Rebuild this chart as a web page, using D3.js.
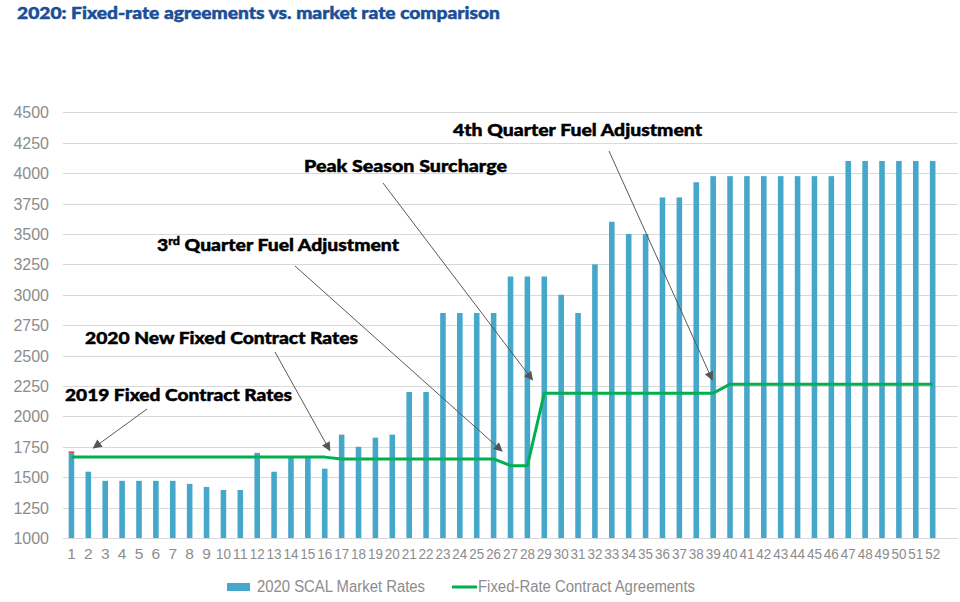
<!DOCTYPE html>
<html>
<head>
<meta charset="utf-8">
<script src="https://cdn.jsdelivr.net/npm/d3@7"></script>
<style>
	body { margin: 0; background: #fff; }
	svg { display: block; }
	.tick-label { font-family: "Liberation Sans", Arial, sans-serif; fill: #8c8c8c; }
	.note { font-family: Lato, "Open Sans", sans-serif; font-weight: 900; fill: #000; font-size: 17px;
		stroke: #000; stroke-width: 0.45px; }
</style>
</head>
<body>
<div id="chart"></div>
<script>
// weekly data
var weeks = [1, 2, 3, 4, 5, 6, 7, 8, 9, 10, 11, 12, 13, 14, 15, 16, 17, 18, 19, 20, 21, 22, 23, 24, 25, 26,
	27, 28, 29, 30, 31, 32, 33, 34, 35, 36, 37, 38, 39, 40, 41, 42, 43, 44, 45, 46, 47, 48, 49, 50, 51, 52];

var marketRates = [1700, 1545, 1470, 1470, 1470, 1470, 1470, 1445, 1420, 1395, 1395, 1700, 1545, 1665, 1665, 1570,
	1850, 1750, 1825, 1850, 2200, 2200, 2850, 2850, 2850, 2850, 3150, 3150, 3150, 3000, 2850, 3250, 3600, 3500,
	3500, 3800, 3800, 3925, 3975, 3975, 3975, 3975, 3975, 3975, 3975, 3975, 4100, 4100, 4100, 4100, 4100, 4100];

var contractRates = [1665, 1665, 1665, 1665, 1665, 1665, 1665, 1665, 1665, 1665, 1665, 1665, 1665, 1665, 1665, 1665,
	1650, 1650, 1650, 1650, 1650, 1650, 1650, 1650, 1650, 1650, 1595, 1595, 2190, 2190, 2190, 2190, 2190, 2190,
	2190, 2190, 2190, 2190, 2190, 2265, 2265, 2265, 2265, 2265, 2265, 2265, 2265, 2265, 2265, 2265, 2265, 2265];

// small red cap seen on top of week 1
var week1Cap = [1700, 1712];

var yTicks = [1000, 1250, 1500, 1750, 2000, 2250, 2500, 2750, 3000, 3250, 3500, 3750, 4000, 4250, 4500];

var seriesNames = ["2020 SCAL Market Rates", "Fixed-Rate Contract Agreements"];

// annotation texts
var notes = ["2019 Fixed Contract Rates", "2020 New Fixed Contract Rates", "3rd Quarter Fuel Adjustment",
	"Peak Season Surcharge", "4th Quarter Fuel Adjustment"];

(function() {
	var W = 960, H = 602;
	var left = 63, right = 958, top = 112.3, bottom = 538;
	var band = (right - left) / 53; // Excel left one empty slot after week 52

	var svg = d3.select("#chart").append("svg").attr("width", W).attr("height", H);

	var x = d3.scaleBand().domain(weeks).range([left, right - band]).paddingInner(0.67).paddingOuter(0.335);
	var y = d3.scaleLinear().domain([1000, 4500]).range([bottom, top]);
	var cx = function(w) { return x(w) + x.bandwidth() / 2; };

	// title
	svg.append("text")
		.attr("x", 17).attr("y", 18.5)
		.attr("textLength", 483).attr("lengthAdjust", "spacingAndGlyphs")
		.style("font-family", "Lato, 'Open Sans', sans-serif").style("font-weight", 900)
		.style("font-size", "17.5px").style("fill", "#1b4f98")
		.style("stroke", "#1b4f98").style("stroke-width", "0.5px")
		.text("2020:  Fixed-rate agreements vs. market rate comparison");

	// gridlines
	svg.append("g").selectAll("line").data(yTicks).join("line")
		.attr("x1", left).attr("x2", right)
		.attr("y1", function(d) { return Math.round(y(d)) + 0.5; })
		.attr("y2", function(d) { return Math.round(y(d)) + 0.5; })
		.attr("stroke", "#d9d9d9").attr("stroke-width", 1);

	// y axis labels
	var yAxis = d3.axisLeft(y).tickValues(yTicks).tickFormat(d3.format("d")).tickSize(0).tickPadding(0);
	var gy = svg.append("g").attr("transform", "translate(49,0)").call(yAxis);
	gy.select(".domain").remove();
	gy.selectAll("text").attr("class", "tick-label").style("font-size", "16px").attr("dy", "0.35em");

	// x axis labels
	var xAxis = d3.axisBottom(x).tickSize(0).tickPadding(0);
	var gx = svg.append("g").attr("transform", "translate(0,559)").call(xAxis);
	gx.select(".domain").remove();
	gx.selectAll("text").attr("class", "tick-label").style("font-size", "15.5px").attr("dy", 0)
		.each(function(d) {
			if (d >= 10) d3.select(this).attr("textLength", 15).attr("lengthAdjust", "spacingAndGlyphs");
		});

	// bars
	svg.append("g").selectAll("rect").data(weeks).join("rect")
		.attr("x", function(d) { return x(d); })
		.attr("width", x.bandwidth())
		.attr("y", function(d, i) { return y(marketRates[i]); })
		.attr("height", function(d, i) { return y(1000) - y(marketRates[i]); })
		.attr("fill", "#45a7c9");

	svg.append("rect")
		.attr("x", x(weeks[0])).attr("width", x.bandwidth())
		.attr("y", y(week1Cap[1])).attr("height", y(week1Cap[0]) - y(week1Cap[1]))
		.attr("fill", "#e0332a");

	// contract line
	var line = d3.line()
		.x(function(d, i) { return cx(weeks[i]); })
		.y(function(d) { return y(d); });
	svg.append("path").datum(contractRates)
		.attr("d", line).attr("fill", "none")
		.attr("stroke", "#00b050").attr("stroke-width", 3).attr("stroke-linejoin", "round");

	// arrow marker
	svg.append("defs").append("marker")
		.attr("id", "arr").attr("viewBox", "0 0 10 10").attr("refX", 9).attr("refY", 5)
		.attr("markerWidth", 11).attr("markerHeight", 9).attr("markerUnits", "userSpaceOnUse")
		.attr("orient", "auto")
		.append("path").attr("d", "M0,0 L10,5 L0,10 Z").attr("fill", "#555");

	// annotation positions: text x, baseline, width, arrow from, arrow to (week, value)
	var notePos = [
		{ x: 65, y: 400.5, w: 227, from: [147, 409], to: [2.3, 1740] },
		{ x: 85, y: 344, w: 273, from: [275, 352], to: [16.3, 1720] },
		{ x: 157, y: 251, w: 242, from: [295, 266], to: [26.5, 1715] },
		{ x: 304, y: 172.3, w: 203, from: [383, 183], to: [28.3, 2300] },
		{ x: 453, y: 136, w: 249, from: [609, 151], to: [38.95, 2300] }
	];
	var weekX = d3.scaleLinear().domain([1, 52]).range([cx(1), cx(52)]);

	var gn = svg.append("g");
	notePos.forEach(function(p, i) {
		gn.append("line")
			.attr("x1", p.from[0]).attr("y1", p.from[1])
			.attr("x2", weekX(p.to[0])).attr("y2", y(p.to[1]))
			.attr("stroke", "#595959").attr("stroke-width", 1)
			.attr("marker-end", "url(#arr)");

		var t = gn.append("text").attr("class", "note")
			.attr("x", p.x).attr("y", p.y)
			.attr("textLength", p.w).attr("lengthAdjust", "spacingAndGlyphs");
		if (notes[i].indexOf("3rd") === 0) {
			t.append("tspan").text("3");
			t.append("tspan").attr("dy", -6).style("font-size", "11px").text("rd");
			t.append("tspan").attr("dy", 6).text(notes[i].slice(3));
		} else {
			t.text(notes[i]);
		}
	});

	// legend
	var lg = svg.append("g");
	lg.append("rect").attr("x", 227).attr("y", 583).attr("width", 23).attr("height", 8).attr("fill", "#45a7c9");
	lg.append("text").attr("class", "tick-label").attr("x", 257).attr("y", 592)
		.attr("textLength", 168).attr("lengthAdjust", "spacingAndGlyphs")
		.style("font-size", "16px").text(seriesNames[0]);
	lg.append("line").attr("x1", 452).attr("x2", 477).attr("y1", 587).attr("y2", 587)
		.attr("stroke", "#00b050").attr("stroke-width", 3);
	lg.append("text").attr("class", "tick-label").attr("x", 478).attr("y", 592)
		.attr("textLength", 217).attr("lengthAdjust", "spacingAndGlyphs")
		.style("font-size", "16px").text(seriesNames[1]);
})();
</script>
</body>
</html>
